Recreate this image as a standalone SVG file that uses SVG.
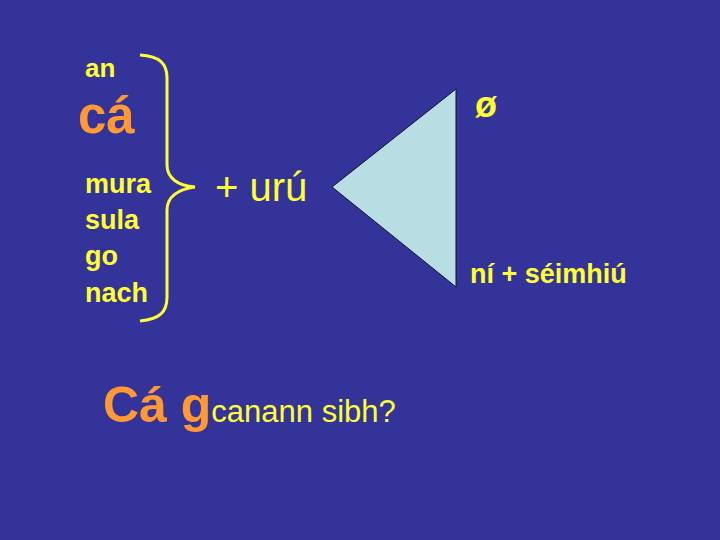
<svg xmlns="http://www.w3.org/2000/svg" width="720" height="540" viewBox="0 0 720 540">
<style>
.y{fill:#FFFF33;font-family:"Liberation Sans",Arial,sans-serif}
.b{font-weight:bold}
.o{fill:#FF9933;font-family:"Liberation Sans",Arial,sans-serif;font-weight:bold}
</style>
<rect width="720" height="540" fill="#333399"/>
<g id="left-words">
<text class="y b" x="85" y="77" font-size="26">an</text>
<text class="o" x="78" y="133" font-size="51">cá</text>
<text class="y b" x="85" y="193" font-size="27">mura</text>
<text class="y b" x="85" y="229" font-size="27">sula</text>
<text class="y b" x="85" y="265" font-size="27">go</text>
<text class="y b" x="85" y="302" font-size="27">nach</text>
</g>
<g id="brace">
<path d="M140,55 C160,56 167,64 167,78 L167,165 C167,178 178,186 195,187 C178,189 167,197 167,210 L167,297 C167,312 160,319 140,321" fill="none" stroke="#FFFF33" stroke-width="3"/>
</g>
<g id="uru">
<text class="y" x="215" y="201" font-size="40">+ urú</text>
</g>
<g id="triangle">
<polygon points="332,187 456,89 456,287" fill="#B8DDE3" stroke="#111133" stroke-width="1"/>
</g>
<g id="null">
<text class="y b" x="475" y="117" font-size="36">ø</text>
</g>
<g id="ni">
<text class="y b" x="470" y="283" font-size="27">ní + séimhiú</text>
</g>
<g id="question">
<text x="103" y="422"><tspan class="o" font-size="50">Cá g</tspan><tspan class="y" font-size="31">canann sibh?</tspan></text>
</g>
</svg>
